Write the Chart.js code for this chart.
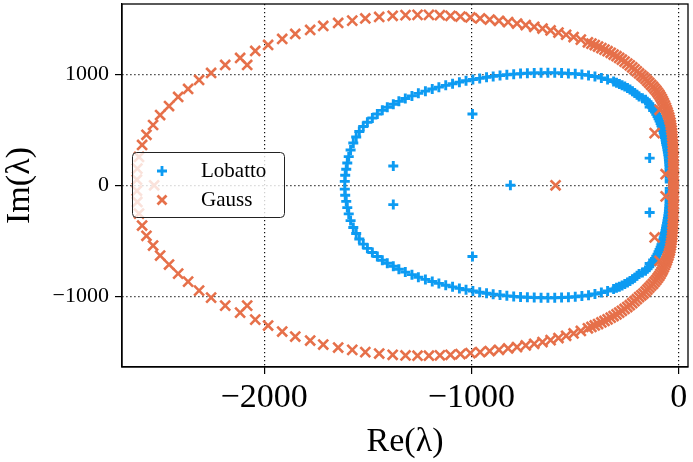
<!DOCTYPE html>
<html>
<head>
<meta charset="utf-8">
<script src="https://cdn.jsdelivr.net/npm/chart.js@4.4.1/dist/chart.umd.min.js"></script>
<style>
  body { margin: 0; background: #fff; }
  #wrap { width: 693px; height: 462px; }
</style>
</head>
<body>
<div id="wrap"><canvas id="graph" width="693" height="462"></canvas></div>
<script>
/// data ///
const xTicks = [-2000, -1000, 0]
const yTicks = [-1000, 0, 1000]

const lobattoReTop = [-1611,-1609,-1604,-1599,-1592,-1583,-1570,-1556,-1541,-1522,-1502,-1478,-1454,-1430,-1406,-1377,-1350,-1319,-1287,-1256,-1222,-1189,-1157,-1124,-1091,-1058,-1026,-993,-960,-927,-895,-862,-829,-796,-763,-730,-697,-664,-631,-598,-565,-532,-499,-467,-435,-404,-373,-343,-314,-300,-286,-273,-260,-247,-235,-223,-212,-201,-191,-175,-160,-151,-142,-134,-127,-120,-114,-108,-102,-97,-92,-87,-83,-79,-75,-72,-69,-66,-63,-61,-59,-56,-54,-52,-50,-48,-47,-46,-45,-44,-44,-43,-43,-43,-43,-43]
const lobattoImTop = [35,90,145,201,258,318,381,435,484,530,568,606,642,675,703,730,756,782,805,828,848,867,884,900,915,929,941,953,963,973,981,989,996,1001,1006,1009,1012,1013,1014,1013,1011,1008,1004,998,990,980,967,952,934,924,913,902,889,876,862,847,832,816,800,785,770,753,735,717,698,679,660,640,620,599,578,557,535,514,493,472,451,430,408,386,364,342,320,298,275,253,230,208,185,163,140,118,95,73,50,28]
const lobattoReBottom = [-1611,-1609,-1604,-1599,-1592,-1583,-1570,-1556,-1541,-1522,-1502,-1478,-1454,-1430,-1406,-1377,-1350,-1319,-1287,-1256,-1222,-1189,-1157,-1124,-1091,-1058,-1026,-993,-960,-927,-895,-862,-829,-796,-763,-730,-697,-664,-631,-598,-565,-532,-499,-467,-435,-404,-373,-343,-314,-300,-286,-273,-260,-247,-235,-223,-212,-201,-191,-175,-160,-151,-142,-134,-127,-120,-114,-108,-102,-97,-92,-87,-83,-79,-75,-72,-69,-66,-63,-61,-59,-56,-54,-52,-50,-48,-47,-46,-45,-44,-44,-43,-43,-43,-43,-43]
const lobattoImBottom = [-35,-90,-145,-201,-258,-318,-381,-435,-484,-530,-568,-606,-642,-675,-703,-730,-756,-782,-805,-828,-848,-867,-884,-900,-915,-929,-941,-953,-963,-973,-981,-989,-996,-1001,-1006,-1009,-1012,-1013,-1014,-1013,-1011,-1008,-1004,-998,-990,-980,-967,-952,-934,-924,-913,-902,-889,-876,-862,-847,-832,-816,-800,-785,-770,-753,-735,-717,-698,-679,-660,-640,-620,-599,-578,-557,-535,-514,-493,-472,-451,-430,-408,-386,-364,-342,-320,-298,-275,-253,-230,-208,-185,-163,-140,-118,-95,-73,-50,-28]
const lobattoReExtra = [-812,-1377,-1377,-995,-995,-140,-140,-140,-140,-63,-63]
const lobattoImExtra = [0,174,-174,642,-642,705,-705,245,-245,435,-435]

const gaussReTop = [-2614,-2612,-2604,-2589,-2568,-2536,-2502,-2459,-2415,-2367,-2314,-2256,-2188,-2116,-2043,-1981,-1913,-1850,-1778,-1715,-1643,-1575,-1512,-1445,-1380,-1318,-1260,-1205,-1152,-1101,-1053,-1005,-958,-912,-867,-823,-780,-738,-697,-657,-618,-580,-543,-507,-472,-438,-421,-405,-389,-373,-358,-343,-328,-314,-300,-287,-274,-261,-248,-236,-224,-213,-202,-191,-180,-170,-160,-151,-142,-133,-124,-116,-108,-101,-94,-88,-82,-77,-72,-67,-62,-58,-54,-50,-46,-43,-40,-38,-36,-34,-32,-31,-30,-29,-28,-28,-27,-27,-26,-26,-26,-26,-25,-25,-25,-25,-25,-25,-25]
const gaussImTop = [50,150,255,363,455,543,633,714,796,868,949,1012,1084,1147,1210,1264,1318,1363,1399,1435,1462,1483,1503,1516,1527,1533,1535,1535,1532,1527,1520,1512,1503,1493,1482,1470,1457,1443,1428,1412,1395,1376,1356,1335,1312,1288,1276,1263,1250,1236,1222,1208,1193,1178,1163,1147,1131,1114,1097,1080,1062,1044,1026,1007,991,975,958,940,923,905,888,870,853,835,817,798,779,760,740,720,699,678,657,635,612,590,566,543,519,495,470,446,421,396,370,345,320,294,268,243,218,192,166,141,115,90,65,40,15]
const gaussReBottom = [-2614,-2612,-2604,-2589,-2568,-2536,-2502,-2459,-2415,-2367,-2314,-2256,-2188,-2116,-2043,-1981,-1913,-1850,-1778,-1715,-1643,-1575,-1512,-1445,-1380,-1318,-1260,-1205,-1152,-1101,-1053,-1005,-958,-912,-867,-823,-780,-738,-697,-657,-618,-580,-543,-507,-472,-438,-421,-405,-389,-373,-358,-343,-328,-314,-300,-287,-274,-261,-248,-236,-224,-213,-202,-191,-180,-170,-160,-151,-142,-133,-124,-116,-108,-101,-94,-88,-82,-77,-72,-67,-62,-58,-54,-50,-46,-43,-40,-38,-36,-34,-32,-31,-30,-29,-28,-28,-27,-27,-26,-26,-26,-26,-25,-25,-25,-25,-25,-25,-25]
const gaussImBottom = [-50,-150,-255,-363,-455,-543,-633,-714,-796,-868,-949,-1012,-1084,-1147,-1210,-1264,-1318,-1363,-1399,-1435,-1462,-1483,-1503,-1516,-1527,-1533,-1535,-1535,-1532,-1527,-1520,-1512,-1503,-1493,-1482,-1470,-1457,-1443,-1428,-1412,-1395,-1376,-1356,-1335,-1312,-1288,-1276,-1263,-1250,-1236,-1222,-1208,-1193,-1178,-1163,-1147,-1131,-1114,-1097,-1080,-1062,-1044,-1026,-1007,-991,-975,-958,-940,-923,-905,-888,-870,-853,-835,-817,-798,-779,-760,-740,-720,-699,-678,-657,-635,-612,-590,-566,-543,-519,-495,-470,-446,-421,-396,-370,-345,-320,-294,-268,-243,-218,-192,-166,-141,-115,-90,-65,-40,-15]
const gaussReExtra = [-2531,-594,-2082,-2082,-92,-92,-116,-116,-63,-63]
const gaussImExtra = [0,0,1084,-1084,680,-680,470,-470,100,-100]

const blue = '#0d9bf2'
const orange = '#e6704a'
const serif = "'Liberation Serif', 'DejaVu Serif', serif"

//// helpers ///
function toPoints(re, im) {
  let pts = []
  for (let i = 0; i < re.length; i++) {
    pts.push({x: re[i], y: im[i]})
  }
  return pts
}
const lobattoPts = toPoints(lobattoReTop.concat(lobattoReBottom, lobattoReExtra), lobattoImTop.concat(lobattoImBottom, lobattoImExtra))
const gaussPts = toPoints(gaussReTop.concat(gaussReBottom, gaussReExtra), gaussImTop.concat(gaussImBottom, gaussImExtra))

function minus(v) {
  return v < 0 ? '\u2212' + Math.abs(v) : '' + v
}

///// box round the axes + legend /////
const framePlugin = {
  id: 'frame',
  afterDatasetsDraw(chart) {
    const ctx = chart.ctx
    const a = chart.chartArea
    ctx.save()
    ctx.strokeStyle = '#000'
    ctx.lineWidth = 1.3
    ctx.strokeRect(a.left, a.top, a.right - a.left, a.bottom - a.top)

    // legend, drawn by hand so it sits inside the axes
    const lx = 132.5, ly = 152.5, lw = 152, lh = 65
    ctx.beginPath()
    ctx.roundRect(lx, ly, lw, lh, 4)
    ctx.fillStyle = 'rgba(255,255,255,0.8)'
    ctx.fill()
    ctx.strokeStyle = '#222'
    ctx.lineWidth = 1
    ctx.stroke()

    ctx.lineWidth = 2.8
    ctx.strokeStyle = blue
    ctx.beginPath()
    ctx.moveTo(157, 171); ctx.lineTo(167, 171)
    ctx.moveTo(162, 166); ctx.lineTo(162, 176)
    ctx.stroke()
    ctx.strokeStyle = orange
    ctx.beginPath()
    ctx.moveTo(157.5, 195.5); ctx.lineTo(166.5, 204.5)
    ctx.moveTo(166.5, 195.5); ctx.lineTo(157.5, 204.5)
    ctx.stroke()

    ctx.fillStyle = '#000'
    ctx.font = '21px ' + serif
    ctx.textBaseline = 'middle'
    ctx.textAlign = 'left'
    ctx.fillText('Lobatto', 201, 171)
    ctx.fillText('Gauss', 201, 200)
    ctx.restore()
  }
}

const gridOpts = {
  color: '#111',
  lineWidth: 1.2,
  tickBorderDash: [],
  tickColor: '#000',
  tickWidth: 1.2,
  tickLength: 7
}
// in v4 border.dash is the dash of the grid lines
const borderOpts = { display: true, color: '#000', width: 1.3, dash: [1.2, 2.8] }

const ctx = document.getElementById('graph').getContext('2d')
const myChart = new Chart(ctx, {
  type: 'scatter',
  data: {
    datasets: [{
      label: 'Lobatto',
      data: lobattoPts,
      order: 1,
      pointStyle: 'cross',
      pointRadius: 5,
      borderColor: blue,
      backgroundColor: blue,
      pointBorderWidth: 2.9
    }, {
      label: 'Gauss',
      data: gaussPts,
      order: 0,
      pointStyle: 'crossRot',
      pointRadius: 7,
      borderColor: orange,
      backgroundColor: orange,
      pointBorderWidth: 2.6
    }]
  },
  options: {
    responsive: false,
    animation: false,
    // no extra room for the markers, the axes box is fixed
    layout: { autoPadding: false, padding: { top: 4, right: 5, left: 0, bottom: 0 } },
    plugins: { legend: { display: false }, tooltip: { enabled: false } },
    scales: {
      x: {
        type: 'linear',
        min: -2686,
        max: 45,
        afterBuildTicks: (scale) => { scale.ticks = xTicks.map(v => ({value: v})) },
        afterFit: (scale) => { scale.height = 95; scale.paddingLeft = 0; scale.paddingRight = 0 },
        grid: gridOpts,
        border: borderOpts,
        ticks: {
          color: '#000',
          padding: 4,
          maxRotation: 0,
          font: { family: serif, size: 34 },
          callback: (v) => minus(v)
        },
        title: {
          display: true,
          text: 'Re(\u03bb)',
          color: '#000',
          font: { family: serif, size: 34 },
          padding: { top: 0, bottom: 0 }
        }
      },
      y: {
        type: 'linear',
        min: -1637,
        max: 1633,
        afterBuildTicks: (scale) => { scale.ticks = yTicks.map(v => ({value: v})) },
        afterFit: (scale) => { scale.width = 122; scale.paddingTop = 0; scale.paddingBottom = 0 },
        grid: gridOpts,
        border: borderOpts,
        ticks: {
          color: '#000',
          padding: 6,
          font: { family: serif, size: 22 },
          callback: (v) => minus(v)
        },
        title: {
          display: true,
          text: 'Im(\u03bb)',
          color: '#000',
          font: { family: serif, size: 34 },
          padding: { top: 0, bottom: 0 }
        }
      }
    }
  },
  plugins: [framePlugin]
})
</script>
</body>
</html>
